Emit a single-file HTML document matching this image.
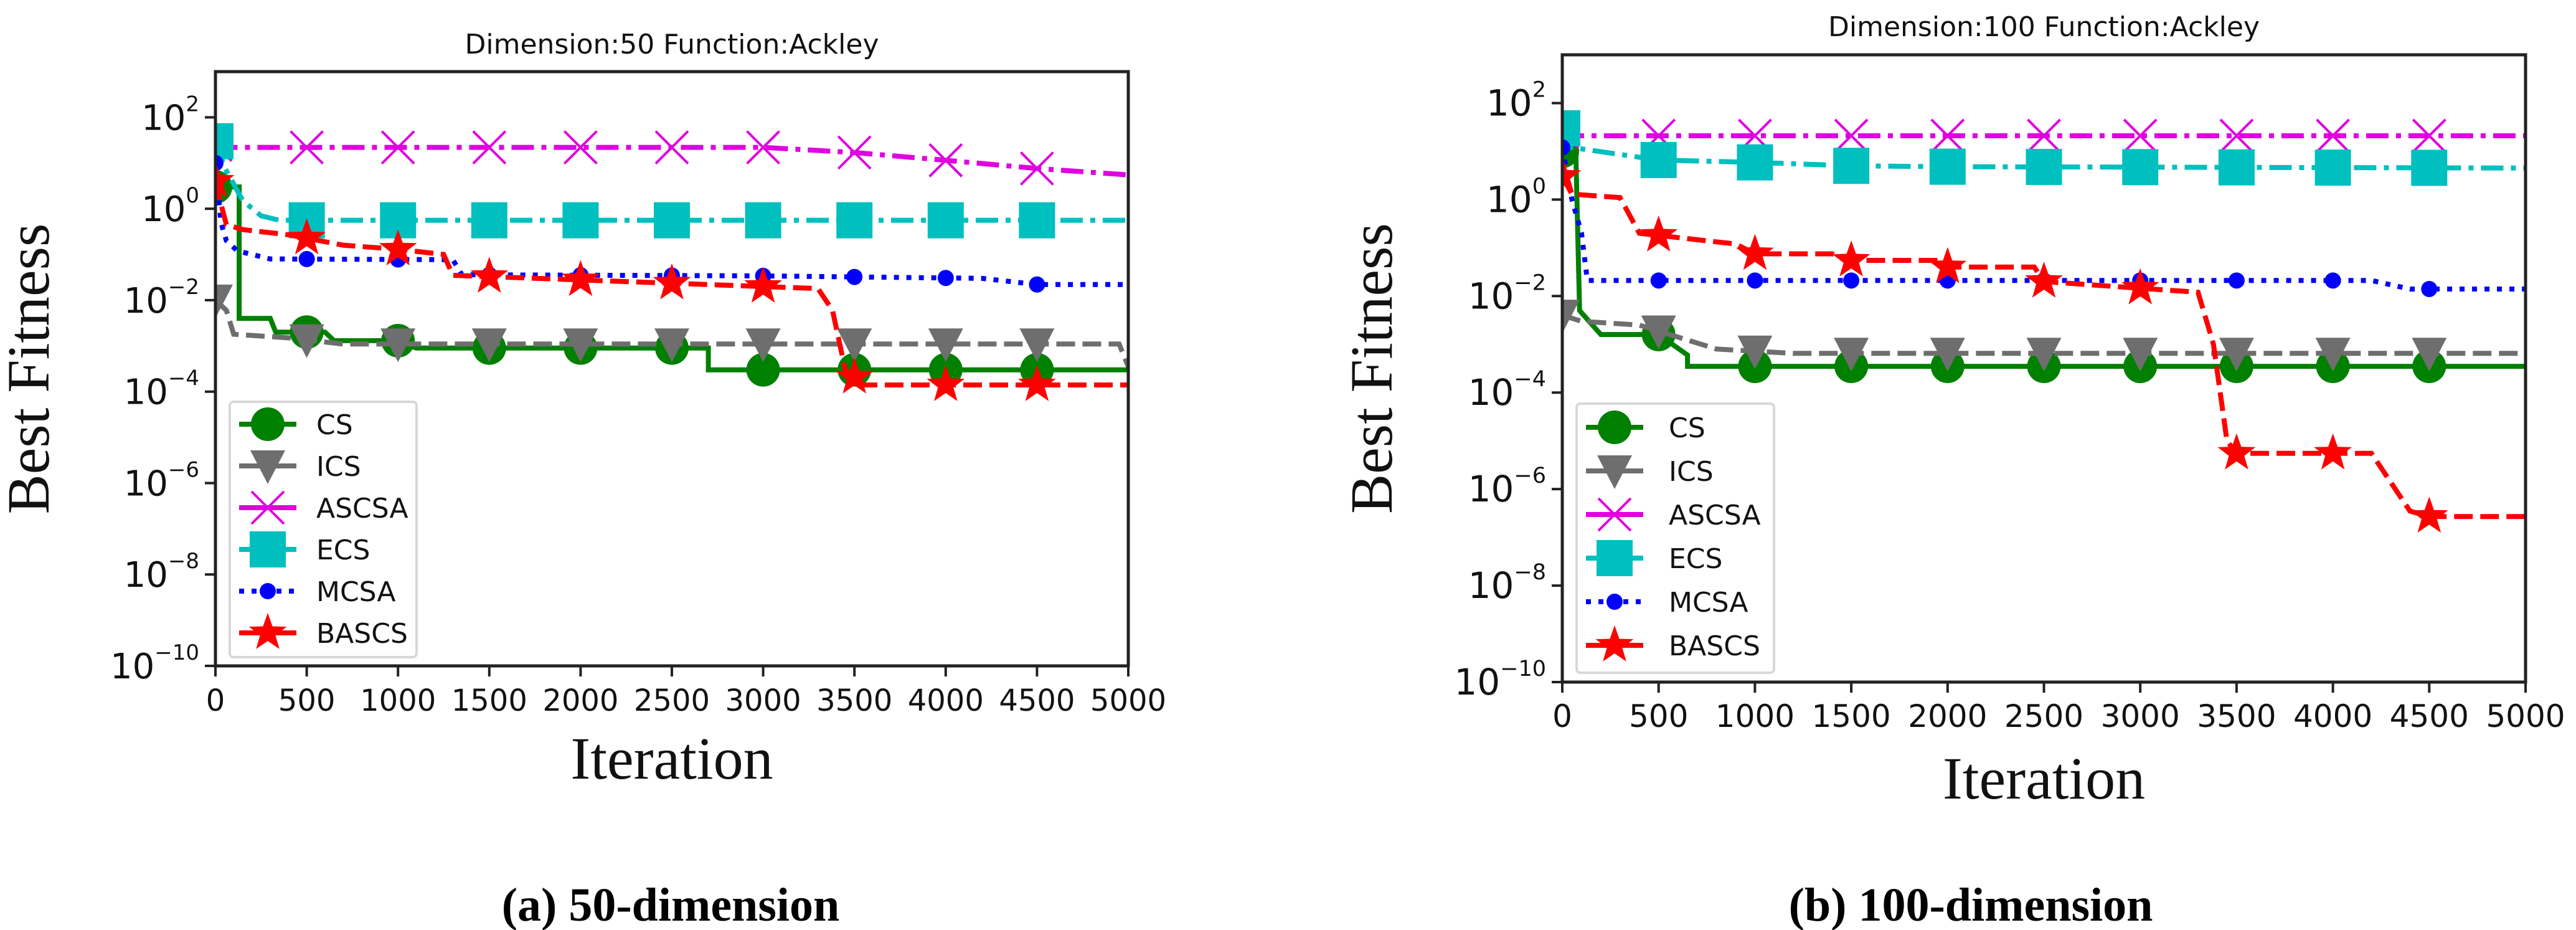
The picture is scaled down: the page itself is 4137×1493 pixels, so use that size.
<!DOCTYPE html>
<html><head><meta charset="utf-8">
<style>
html,body{margin:0;padding:0;background:#fff;}
svg{display:block;}
</style></head>
<body>
<svg id="fig" xmlns="http://www.w3.org/2000/svg" width="4137" height="1493" viewBox="0 0 4137 1493">
<rect width="4137" height="1493" fill="#fff"/>
<text x="1077" y="1478" font-family="Liberation Serif, serif" font-weight="bold" font-size="76" text-anchor="middle">(a) 50-dimension</text>
<text x="3165" y="1478" font-family="Liberation Serif, serif" font-weight="bold" font-size="76" text-anchor="middle">(b) 100-dimension</text>
</svg>
<script>
const xTicks=[0,500,1000,1500,2000,2500,3000,3500,4000,4500,5000];
const yTickExps=[-10,-8,-6,-4,-2,0,2];
const seriesNames=["CS","ICS","ASCSA","ECS","MCSA","BASCS"];
const markerIters=[0,500,1000,1500,2000,2500,3000,3500,4000,4500];
// Panel A (50-dim)
const aCSx=[0,130,130,300,330,600,650,1000,1100,2700,2700,5000];
const aCSy=[3,3,0.004,0.004,0.002,0.002,0.0013,0.0013,0.0009,0.0009,0.0003,0.0003];
const aICSx=[0,60,100,400,700,4950,5000];
const aICSy=[0.01,0.006,0.0018,0.0015,0.0011,0.0011,0.00035];
const aASCSAx=[0,50,3000,3500,4000,4500,5000];
const aASCSAy=[25,22,22,17,11.5,7.6,5.5];
const aECSx=[0,50,150,250,350,5000];
const aECSy=[30,8,1.5,0.7,0.56,0.56];
const aMCSAx=[0,30,60,120,300,1300,1350,3000,4200,4500,5000];
const aMCSAy=[10,0.5,0.2,0.12,0.08,0.077,0.036,0.034,0.03,0.022,0.022];
const aBASCSx=[0,40,60,150,400,700,1000,1250,1300,3300,3380,3450,3550,5000];
const aBASCSy=[4,0.9,0.45,0.35,0.27,0.16,0.13,0.1,0.035,0.018,0.006,0.0003,0.00014,0.00014];
// Panel B (100-dim)
const bCSx=[0,70,90,200,500,650,650,5000];
const bCSy=[10,10,0.005,0.0016,0.0016,0.0006,0.00035,0.00035];
const bICSx=[0,100,400,800,1200,5000];
const bICSy=[0.004,0.003,0.0025,0.0008,0.00065,0.00065];
const bASCSAx=[0,50,5000];
const bASCSAy=[25,21,21];
const bECSx=[0,50,500,1000,1500,2000,5000];
const bECSy=[30,12,6.6,5.9,5.0,4.8,4.5];
const bMCSAx=[0,50,100,130,4200,4400,5000];
const bMCSAy=[12,1,0.2,0.021,0.021,0.014,0.014];
const bBASCSx=[0,50,300,400,900,1000,1400,1500,1950,2000,2450,2500,3300,3380,3450,3500,4200,4400,4500,5000];
const bBASCSy=[3,1.3,1.1,0.2,0.12,0.075,0.075,0.055,0.055,0.04,0.04,0.02,0.012,0.001,0.00001,0.0000055,0.0000055,0.00000035,0.00000027,0.00000027];

const NS="http://www.w3.org/2000/svg";
const svg=document.getElementById('fig');
function mk(tag,attrs,parent){const e=document.createElementNS(NS,tag);for(const k in attrs)e.setAttribute(k,attrs[k]);(parent||svg).appendChild(e);return e;}
const colors=["#008000","#6e6e6e","#e000e0","#00bfbf","#0000ff","#ff0000"];
const dashes=["none","30,12","36,12,8,12","36,12,8,12","8,12","30,12"];

function drawMarker(g,kind,cx,cy,col){
  let e;
  if(kind===0){e=mk('circle',{cx:cx,cy:cy,r:27,fill:col},g);}
  else if(kind===1){e=mk('polygon',{points:`${cx-28},${cy-25} ${cx+28},${cy-25} ${cx},${cy+29}`,fill:col},g);}
  else if(kind===2){e=mk('path',{d:`M${cx-26},${cy-26}L${cx+26},${cy+26}M${cx-26},${cy+26}L${cx+26},${cy-26}`,stroke:col,'stroke-width':4,fill:'none'},g);}
  else if(kind===3){e=mk('rect',{x:cx-29,y:cy-29,width:58,height:58,fill:col},g);}
  else if(kind===4){e=mk('circle',{cx:cx,cy:cy,r:13,fill:col},g);}
  else {let p=[];for(let i=0;i<10;i++){const r=i%2?13:32;const a=-Math.PI/2+i*Math.PI/5;p.push((cx+r*Math.cos(a)).toFixed(1)+','+(cy+r*Math.sin(a)).toFixed(1));}
    e=mk('polygon',{points:p.join(' '),fill:col},g);}
  return e;
}
function interpLog(xs,ys,x){
  for(let i=xs.length-1;i>=0;i--){ if(xs[i]<=x){ if(i===xs.length-1)return ys[i];
      let j=i; const x0=xs[j],x1=xs[j+1]; if(x1===x0)return ys[j+1];
      const t=(x-x0)/(x1-x0); return Math.pow(10,Math.log10(ys[j])*(1-t)+Math.log10(ys[j+1])*t);} }
  return ys[0];
}

function panel(P){
  const g=mk('g',{});
  
  
  const X=v=>P.L+(v/5000)*(P.R-P.L);
  const Y=v=>P.B-(Math.log10(v)+10)/13*(P.B-P.T);
  const clip=mk('clipPath',{id:P.name+'-clip'},g);
  mk('rect',{x:P.L,y:P.T,width:P.R-P.L,height:P.B-P.T},clip);
  for(let s=0;s<6;s++){
    const xs=P.data[s][0],ys=P.data[s][1];
    const sg=mk('g',{'clip-path':`url(#${P.name}-clip)`},g);
    
    
    const pts=xs.map((x,i)=>X(x).toFixed(1)+','+Y(ys[i]).toFixed(1)).join(' ');
    const ln=mk('polyline',{points:pts,fill:'none',stroke:colors[s],'stroke-width':8,'stroke-dasharray':dashes[s]},sg);
    
    
    markerIters.forEach(mi=>{const m=drawMarker(sg,s,X(mi),Y(interpLog(xs,ys,mi)),colors[s]);
      
      });
  }
  const fr=mk('rect',{x:P.L,y:P.T,width:P.R-P.L,height:P.B-P.T,fill:'none',stroke:'#222','stroke-width':5},g);
  
  
  xTicks.forEach(t=>{mk('line',{x1:X(t),x2:X(t),y1:P.B,y2:P.B+17,stroke:'#222','stroke-width':4},g);
    const tx=mk('text',{x:X(t),y:P.B+72,'font-family':'DejaVu Sans, sans-serif','font-size':P.fs,'text-anchor':'middle',fill:'#111'},g);
    tx.textContent=t;
    
    });
  yTickExps.forEach(e=>{const y=Y(Math.pow(10,e));mk('line',{x1:P.L-17,x2:P.L,y1:y,y2:y,stroke:'#222','stroke-width':4},g);
    const tx=mk('text',{x:P.L-26,y:y+20,'font-family':'DejaVu Sans, sans-serif','font-size':P.fs+8,'text-anchor':'end',fill:'#111'},g);
    
    
    const b=mk('tspan',{},tx); b.textContent='10';
    const sp=mk('tspan',{dy:-30,'font-size':(P.fs*0.7).toFixed(0)},tx);
    sp.textContent=(e<0?'\u2212':'')+Math.abs(e);});
  const ti=mk('text',{x:(P.L+P.R)/2,y:P.titleY,'font-family':'DejaVu Sans, sans-serif','font-size':44,'text-anchor':'middle',fill:'#111'},g);
  ti.textContent=P.title;
  
  
  const xl=mk('text',{x:(P.L+P.R)/2,y:P.xlY,'font-family':'Liberation Serif, serif','font-size':96,'text-anchor':'middle',fill:'#111'},g);
  xl.textContent='Iteration';
  
  
  const yl=mk('text',{x:0,y:0,transform:`translate(${P.ylX},${(P.T+P.B)/2}) rotate(-90)`,'font-family':'Liberation Serif, serif','font-size':96,'text-anchor':'middle',fill:'#111'},g);
  yl.textContent='Best Fitness';
  
  
  const lg=mk('g',{},g);
  
  
  mk('rect',{x:P.lg[0],y:P.lg[1],width:P.lg[2],height:P.lg[3],rx:6,fill:'#fff',stroke:'#d8d8d8','stroke-width':4},lg);
  for(let s=0;s<6;s++){
    const ey=P.lg[4]+s*P.lg[5];
    const eg=mk('g',{},lg);
    
    
    mk('line',{x1:P.lg[6]-46,x2:P.lg[6]+46,y1:ey,y2:ey,stroke:colors[s],'stroke-width':8,'stroke-dasharray':s===4?'8,12':'none'},eg);
    drawMarker(eg,s,P.lg[6],ey,colors[s]);
    const t=mk('text',{x:P.lg[7],y:ey+16,'font-family':'DejaVu Sans, sans-serif','font-size':44,fill:'#111'},eg);
    t.textContent=seriesNames[s];
  }
}
panel({name:'panel-50-dimension',L:346,R:1812,T:115,B:1069,fs:48,title:'Dimension:50  Function:Ackley',titleY:86,xlY:1250,ylX:78,
  lg:[369,645,300,410,681,67,430,508],
  data:[[aCSx,aCSy],[aICSx,aICSy],[aASCSAx,aASCSAy],[aECSx,aECSy],[aMCSAx,aMCSAy],[aBASCSx,aBASCSy]]});
panel({name:'panel-100-dimension',L:2509,R:4056,T:88,B:1095,fs:50,title:'Dimension:100  Function:Ackley',titleY:58,xlY:1282,ylX:2235,
  lg:[2532,648,317,432,686,70,2593,2680],
  data:[[bCSx,bCSy],[bICSx,bICSy],[bASCSAx,bASCSAy],[bECSx,bECSy],[bMCSAx,bMCSAy],[bBASCSx,bBASCSy]]});
</script>
</body></html>
